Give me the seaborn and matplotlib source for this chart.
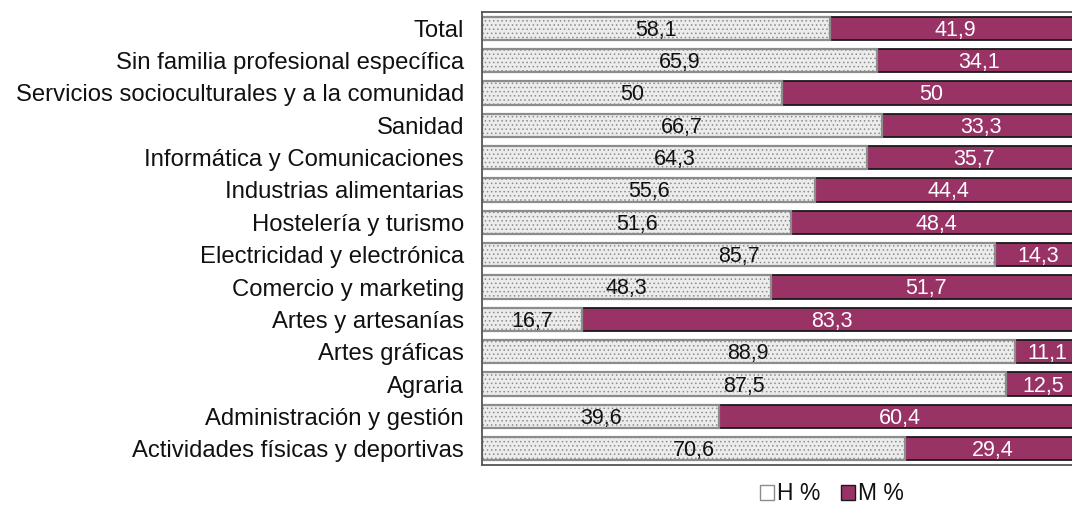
import numpy as np
import pandas as pd
import matplotlib
matplotlib.use("Agg")
import matplotlib.pyplot as plt
import seaborn as sns
from matplotlib.patches import Patch

# ---------- DATA ----------
CATEGORIES = [
    "Total",
    "Sin familia profesional específica",
    "Servicios socioculturales y a la comunidad",
    "Sanidad",
    "Informática y Comunicaciones",
    "Industrias alimentarias",
    "Hostelería y turismo",
    "Electricidad y electrónica",
    "Comercio y marketing",
    "Artes y artesanías",
    "Artes gráficas",
    "Agraria",
    "Administración y gestión",
    "Actividades físicas y deportivas",
]
H_PCT = [58.1, 65.9, 50, 66.7, 64.3, 55.6, 51.6, 85.7, 48.3, 16.7, 88.9, 87.5, 39.6, 70.6]
M_PCT = [41.9, 34.1, 50, 33.3, 35.7, 44.4, 48.4, 14.3, 51.7, 83.3, 11.1, 12.5, 60.4, 29.4]
SERIES = ["H %", "M %"]

H_COLOR = "#ECECEC"
M_COLOR = "#993366"

sns.set_style("white")
plt.rcParams["font.family"] = ["Liberation Sans", "DejaVu Sans"]
plt.rcParams["text.color"] = "#111111"
plt.rcParams["ytick.color"] = "#111111"
plt.rcParams["hatch.color"] = "#D2D2D2"
plt.rcParams["hatch.linewidth"] = 0.6

df = pd.DataFrame({"cat": CATEGORIES, "H": H_PCT, "M": M_PCT})
df["total"] = df["H"] + df["M"]

fig = plt.figure(figsize=(10.72, 5.09), dpi=100)
# axes extends a bit past the right edge, as in the cropped original
ax = fig.add_axes([482 / 1072, 1 - 465 / 509, 599 / 1072, 453 / 509])

# stacked bars: full bar in M colour, H drawn over it
sns.barplot(data=df, y="cat", x="total", color=M_COLOR, saturation=1, orient="h",
            width=0.72, edgecolor="#1A1A1A", linewidth=1.3, ax=ax)
sns.barplot(data=df, y="cat", x="H", color=H_COLOR, saturation=1, orient="h",
            width=0.72, edgecolor="#8C8C8C", linewidth=1.6, ax=ax)
for p in ax.patches[len(CATEGORIES):]:
    p.set_hatch("....")
    p.set_facecolor(H_COLOR)

def fmt(v):
    s = f"{v:.1f}".replace(".", ",")
    return s[:-2] if s.endswith(",0") else s

for i, (h, m) in enumerate(zip(H_PCT, M_PCT)):
    ax.text(h / 2, i + 0.06, fmt(h), ha="center", va="center", fontsize=15.5, color="#111111")
    ax.text(h + m / 2, i + 0.06, fmt(m), ha="center", va="center", fontsize=15.5, color="white")

ax.set_xlim(0, 100)
ax.set_ylim(len(CATEGORIES) - 0.5, -0.5)
ax.set_xlabel("")
ax.set_ylabel("")
ax.set_xticks([])
ax.tick_params(axis="y", length=0, pad=13, labelsize=17.2)
for side in ["top", "right", "bottom", "left"]:
    ax.spines[side].set_visible(True)
    ax.spines[side].set_color("#555555")
    ax.spines[side].set_linewidth(1.3)

handles = [
    Patch(facecolor="white", edgecolor="#8C8C8C", label=SERIES[0]),
    Patch(facecolor=M_COLOR, edgecolor="#1A1A1A", label=SERIES[1]),
]
fig.legend(handles=handles, loc="center", bbox_to_anchor=(832 / 1072, 1 - 494 / 509),
           ncol=2, frameon=False, fontsize=16.5, handlelength=0.6, handleheight=0.6,
           handletextpad=0.15, columnspacing=0.9)

fig.savefig("out.png", dpi=100)
